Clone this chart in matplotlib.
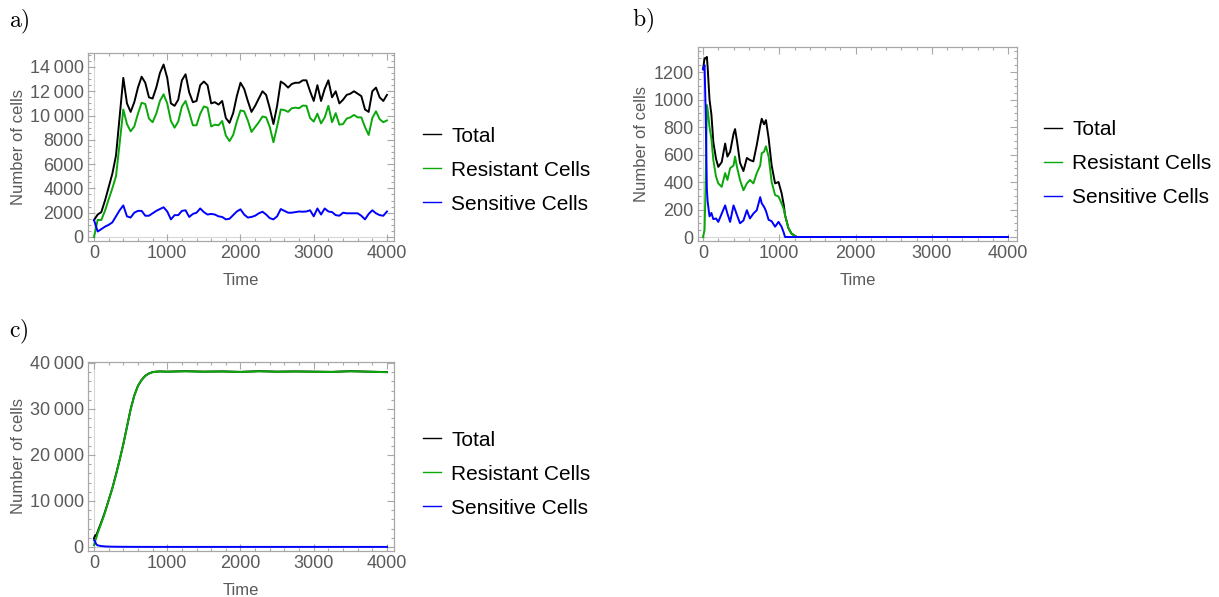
import matplotlib
matplotlib.use("Agg")
import matplotlib.pyplot as plt
from matplotlib.ticker import MultipleLocator, FuncFormatter
from matplotlib.lines import Line2D

plt.rcParams['font.family'] = ['Liberation Sans', 'DejaVu Sans']
plt.rcParams['mathtext.fontset'] = 'cm'

# =============================================================================
# DATA
# =============================================================================
# panel a) - every 50 time units
time_a = list(range(0, 4001, 50))
total_a = [1400, 1850, 2050, 3000, 4100, 5200, 6700, 9900, 13100, 11000,
           10300, 11100, 12300, 13200, 12700, 11500, 11400, 12300, 13500, 14200,
           13100, 11000, 10800, 11300, 12900, 13400, 11900, 11100, 11200, 12500,
           12800, 12500, 11000, 11100, 10900, 11200, 9800, 9400, 10200, 11600,
           12700, 12200, 11200, 10300, 10800, 11400, 12000, 11700, 10600, 9300,
           10800, 12800, 12600, 12300, 12600, 12700, 12700, 12900, 12900, 12000,
           11200, 12500, 11200, 12200, 12900, 11500, 12000, 11000, 11300, 11700,
           11800, 12000, 11800, 11600, 10500, 10300, 12000, 12300, 11500, 11200,
           11700]
resistant_a = [0, 1400, 1400, 2150, 3100, 4000, 5000, 7700, 10500, 9300,
               8700, 9100, 10150, 11050, 10950, 9750, 9450, 10150, 11200, 11750,
               11000, 9550, 9000, 9500, 10750, 11200, 10250, 9200, 9200, 10150,
               10750, 10650, 9100, 9250, 9200, 9550, 8350, 7900, 8400, 9500,
               10420, 10350, 9600, 8650, 9050, 9450, 9920, 9850, 9050, 7800,
               9100, 10500, 10450, 10300, 10600, 10650, 10600, 10820, 10800, 9800,
               9500, 10150, 9350, 9850, 10800, 9450, 10200, 9250, 9300, 9750,
               9850, 10050, 9850, 9850, 9050, 8400, 9800, 10350, 9700, 9450,
               9600]
sensitive_a = [1400, 450, 650, 850, 1000, 1200, 1700, 2200, 2600, 1700,
               1600, 2000, 2150, 2150, 1750, 1750, 1950, 2150, 2300, 2450,
               2100, 1450, 1800, 1800, 2150, 2200, 1650, 1900, 2000, 2350,
               2050, 1850, 1900, 1850, 1700, 1650, 1450, 1500, 1800, 2100,
               2280, 1850, 1600, 1650, 1750, 1950, 2080, 1850, 1550, 1450,
               1700, 2300, 2150, 2000, 2000, 2050, 2100, 2080, 2100, 2200,
               1700, 2350, 1850, 2350, 2100, 2050, 1800, 1750, 2000, 1950,
               1950, 1950, 1950, 1750, 1450, 1900, 2200, 1950, 1800, 1750,
               2100]

# panel b)
time_b = [0, 20, 35, 50, 60, 85, 110, 135, 170, 200, 245, 290, 320, 355, 400,
          420, 445, 485, 530, 575, 615, 660, 705, 750, 770, 800, 825, 860, 900,
          945, 990, 1030, 1060, 1075, 1120, 1160, 1230, 1300, 4000]
total_b = [1220, 1300, 1300, 1310, 1240, 1000, 890, 690, 570, 510, 545, 680,
           585, 620, 750, 785, 700, 540, 480, 575, 560, 550, 670, 810, 860,
           820, 850, 720, 520, 390, 400, 320, 230, 160, 65, 25, 0, 0, 0]
resistant_b = [0, 50, 400, 960, 930, 800, 715, 560, 440, 390, 365, 465, 415,
               500, 520, 585, 510, 415, 340, 390, 415, 390, 465, 520, 610, 620,
               660, 585, 400, 305, 295, 245, 200, 160, 65, 25, 0, 0, 0]
sensitive_b = [1220, 1250, 900, 350, 260, 150, 175, 130, 135, 110, 170, 230,
               170, 110, 230, 200, 160, 100, 120, 195, 135, 170, 195, 290, 245,
               220, 190, 125, 115, 75, 110, 75, 30, 0, 0, 0, 0, 0, 0]

# panel c)
time_c = [0, 15, 30, 50, 100, 150, 200, 250, 300, 350, 400, 450, 500, 550, 600,
          650, 700, 750, 800, 850, 900, 1000, 1250, 1500, 1750, 2000, 2250,
          2500, 2750, 3000, 3250, 3500, 3750, 4000]
resistant_c = [400, 1300, 1900, 3000, 5200, 7500, 10100, 12700, 15700, 18900,
               22300, 26100, 29900, 32900, 35000, 36300, 37200, 37700, 38000,
               38100, 38150, 38100, 38200, 38100, 38150, 38050, 38200, 38100,
               38150, 38100, 38050, 38200, 38100, 38000]
sensitive_c = [1500, 1200, 600, 350, 200, 120, 90, 70, 60, 50, 45, 40, 35, 30,
               30, 25, 25, 25, 20, 20, 20, 20, 20, 20, 20, 20, 20, 20, 20, 20,
               20, 20, 20, 20]
total_c = [1900, 2500, 2500, 3350, 5400, 7620, 10190, 12770, 15760, 18950,
           22345, 26140, 29935, 32930, 35030, 36325, 37225, 37725, 38020,
           38120, 38170, 38120, 38220, 38120, 38170, 38070, 38220, 38120,
           38170, 38120, 38070, 38220, 38120, 38020]

labels = ["Total", "Resistant Cells", "Sensitive Cells"]
colors = ["black", "#0aa80a", "#0000ff"]

# =============================================================================
# FIGURE
# =============================================================================
W, H = 1219, 597
fig = plt.figure(figsize=(W / 100, H / 100), dpi=100)

FRAME = "#a8a8a8"
TXT = "#5a5a5a"


def fmt(v, pos):
    v = int(round(v))
    if abs(v) >= 10000:
        return f"{v:,}".replace(",", "\u2009")
    return str(v)


def make_axes(rect, xlim, ylim, ymaj, ymin):
    l, r, t, b = rect
    ax = fig.add_axes([l / W, 1 - b / H, (r - l) / W, (b - t) / H])
    ax.set_xlim(*xlim)
    ax.set_ylim(*ylim)
    ax.xaxis.set_major_locator(MultipleLocator(1000))
    ax.xaxis.set_minor_locator(MultipleLocator(200))
    ax.yaxis.set_major_locator(MultipleLocator(ymaj))
    ax.yaxis.set_minor_locator(MultipleLocator(ymin))
    ax.yaxis.set_major_formatter(FuncFormatter(fmt))
    ax.tick_params(which="both", direction="in", top=True, right=True,
                   color=FRAME, labelcolor=TXT, labelsize=13, width=0.8)
    ax.tick_params(which="major", length=5, pad=3)
    ax.tick_params(which="minor", length=2.5)
    for s in ax.spines.values():
        s.set_color(FRAME)
        s.set_linewidth(0.9)
    ax.axvline(0, color="#d8d8d8", lw=0.8, zorder=0)
    ax.axhline(0, color="#d8d8d8", lw=0.8, zorder=0)
    ax.set_xlabel("Time", fontsize=12, color=TXT, labelpad=8)
    ax.set_ylabel("Number of cells", fontsize=12, color=TXT, labelpad=3)
    return ax


def draw(ax, t, series):
    for vals, c in zip(series, colors):
        ax.plot(t, vals, color=c, lw=1.4, solid_joinstyle="round")


def legend(x, y):
    handles = [Line2D([], [], color=c, lw=1.0) for c in colors]
    fig.legend(handles, labels, loc="center left",
               bbox_to_anchor=(x / W, 1 - y / H), frameon=False,
               fontsize=15, handlelength=0.85, handletextpad=0.5,
               labelspacing=0.72, borderaxespad=0, borderpad=0)


ax_a = make_axes((88, 394, 53, 241), (-82, 4096), (-330, 15150), 2000, 500)
draw(ax_a, time_a, [total_a, resistant_a, sensitive_a])
legend(423, 170)

ax_b = make_axes((698, 1017, 47, 241), (-66, 4118), (-29, 1382), 200, 50)
draw(ax_b, time_b, [total_b, resistant_b, sensitive_b])
legend(1044, 164)

ax_c = make_axes((88, 394, 362, 551), (-82, 4096), (-870, 40217), 10000, 2000)
draw(ax_c, time_c, [total_c, resistant_c, sensitive_c])
legend(423, 474)

fig.text(9 / W, 1 - 22 / H, r"$\mathrm{a)}$", fontsize=17, va="center")
fig.text(632 / W, 1 - 21 / H, r"$\mathrm{b)}$", fontsize=17, va="center")
fig.text(9 / W, 1 - 332 / H, r"$\mathrm{c)}$", fontsize=17, va="center")

fig.savefig("out.png", dpi=100)
